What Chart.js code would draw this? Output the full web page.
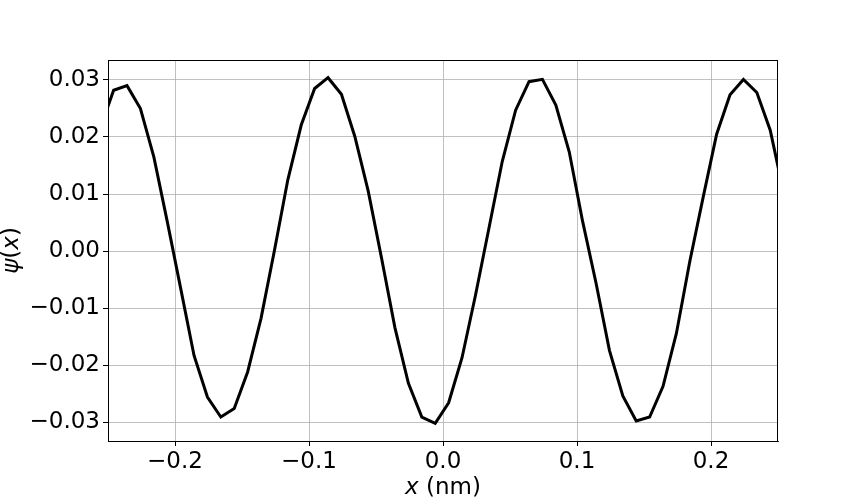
<!DOCTYPE html>
<html>
<head>
<meta charset="utf-8">
<script src="https://cdn.jsdelivr.net/npm/chart.js@4"></script>
<style>
  html, body { margin: 0; padding: 0; background: #fff; }
  canvas { display: block; }
</style>
</head>
<body>
<canvas id="wave" width="864" height="504"></canvas>
<script>
// sample positions (nm) and wavefunction values
const xs = [-0.2558, -0.2458, -0.2358, -0.2258, -0.2158, -0.2058, -0.1958, -0.1858, -0.1758, -0.1658,
            -0.1558, -0.1458, -0.1358, -0.1258, -0.1158, -0.1058, -0.0958, -0.0858, -0.0758, -0.0658,
            -0.0558, -0.0458, -0.0358, -0.0258, -0.0158, -0.0058, 0.0042, 0.0142, 0.0242, 0.0342,
            0.0442, 0.0542, 0.0642, 0.0742, 0.0842, 0.0942, 0.1042, 0.1142, 0.1242, 0.1342,
            0.1442, 0.1542, 0.1642, 0.1742, 0.1842, 0.1942, 0.2042, 0.2142, 0.2242, 0.2342,
            0.2442, 0.2542];
const psi = [0.0215, 0.0282, 0.0290, 0.0250, 0.0165, 0.0052, -0.0065, -0.0183, -0.0256, -0.0291,
             -0.0276, -0.0212, -0.0118, 0.0001, 0.0125, 0.0221, 0.0285, 0.0304, 0.0275, 0.0201,
             0.0105, -0.0013, -0.0135, -0.0232, -0.0291, -0.0302, -0.0266, -0.0187, -0.0078, 0.0039,
             0.0157, 0.0247, 0.0297, 0.0301, 0.0256, 0.0174, 0.0052, -0.0056, -0.0174, -0.0254,
             -0.0298, -0.0291, -0.0237, -0.0144, -0.0018, 0.0095, 0.0205, 0.0274, 0.0301, 0.0278,
             0.0212, 0.0102];

const xTicks = [-0.2, -0.1, 0.0, 0.1, 0.2];
const yTicks = [-0.03, -0.02, -0.01, 0.00, 0.01, 0.02, 0.03];

const FONT = '"DejaVu Sans", sans-serif';
const SIZE = 23;

function fmt(v, digits) {
    const s = Math.abs(v).toFixed(digits);
    return (v < -1e-9 ? '\u2212' : '') + s;
}

// draws top/right spines and the axis titles (mixed italic)
const decorations = {
    id: 'decorations',
    afterDraw(chart) {
        const ctx = chart.ctx;
        const a = chart.chartArea;
        ctx.save();
        ctx.strokeStyle = '#000';
        ctx.lineWidth = 1;
        ctx.strokeRect(Math.round(a.left) + 0.5, Math.round(a.top) + 0.5,
                       Math.round(a.right - a.left) - 1, Math.round(a.bottom - a.top));

        ctx.fillStyle = '#000';
        ctx.textBaseline = 'middle';
        // x title: "x (nm)"
        const cx = (a.left + a.right) / 2;
        ctx.font = 'italic ' + SIZE + 'px ' + FONT;
        const w1 = ctx.measureText('x').width;
        ctx.font = SIZE + 'px ' + FONT;
        const w2 = ctx.measureText(' (nm)').width;
        let sx = cx - (w1 + w2) / 2;
        ctx.textAlign = 'left';
        ctx.font = 'italic ' + SIZE + 'px ' + FONT;
        ctx.fillText('x', sx, 488);
        ctx.font = SIZE + 'px ' + FONT;
        ctx.fillText(' (nm)', sx + w1, 488);

        // y title: "ψ(x)"
        ctx.translate(12, (a.top + a.bottom) / 2);
        ctx.rotate(-Math.PI / 2);
        const parts = [['\u03c8', true], ['(', false], ['x', true], [')', false]];
        let total = 0;
        parts.forEach(p => {
            ctx.font = (p[1] ? 'italic ' : '') + SIZE + 'px ' + FONT;
            total += ctx.measureText(p[0]).width;
        });
        let px = -total / 2;
        parts.forEach(p => {
            ctx.font = (p[1] ? 'italic ' : '') + SIZE + 'px ' + FONT;
            ctx.fillText(p[0], px, 0);
            px += ctx.measureText(p[0]).width;
        });
        ctx.restore();
    }
};

new Chart(document.getElementById('wave'), {
    type: 'scatter',
    data: {
        datasets: [{
            data: xs.map((x, i) => ({ x: x, y: psi[i] })),
            showLine: true,
            borderColor: '#000',
            borderWidth: 3,
            pointRadius: 0,
            tension: 0
        }]
    },
    options: {
        responsive: false,
        animation: false,
        layout: { padding: { top: 60, right: 86, left: 0, bottom: 0 } },
        plugins: {
            legend: { display: false },
            tooltip: { enabled: false }
        },
        scales: {
            x: {
                type: 'linear',
                min: -0.25,
                max: 0.25,
                afterBuildTicks: s => { s.ticks = xTicks.map(v => ({ value: v })); },
                afterFit: s => { s.height = 63; },
                grid: { color: '#b0b0b0', lineWidth: 0.8, tickColor: '#000', tickLength: 5, tickWidth: 1 },
                border: { display: true, color: '#000', width: 1 },
                ticks: {
                    color: '#000',
                    padding: 2,
                    maxRotation: 0,
                    font: { family: FONT, size: SIZE },
                    callback: v => fmt(v, 1)
                }
            },
            y: {
                type: 'linear',
                min: -0.0333,
                max: 0.0335,
                afterBuildTicks: s => { s.ticks = yTicks.map(v => ({ value: v })); },
                afterFit: s => { s.width = 108; },
                grid: { color: '#b0b0b0', lineWidth: 0.8, tickColor: '#000', tickLength: 5, tickWidth: 1 },
                border: { display: true, color: '#000', width: 1 },
                ticks: {
                    color: '#000',
                    padding: 3,
                    font: { family: FONT, size: SIZE },
                    callback: v => fmt(v, 2)
                }
            }
        }
    },
    plugins: [decorations]
});
</script>
</body>
</html>
